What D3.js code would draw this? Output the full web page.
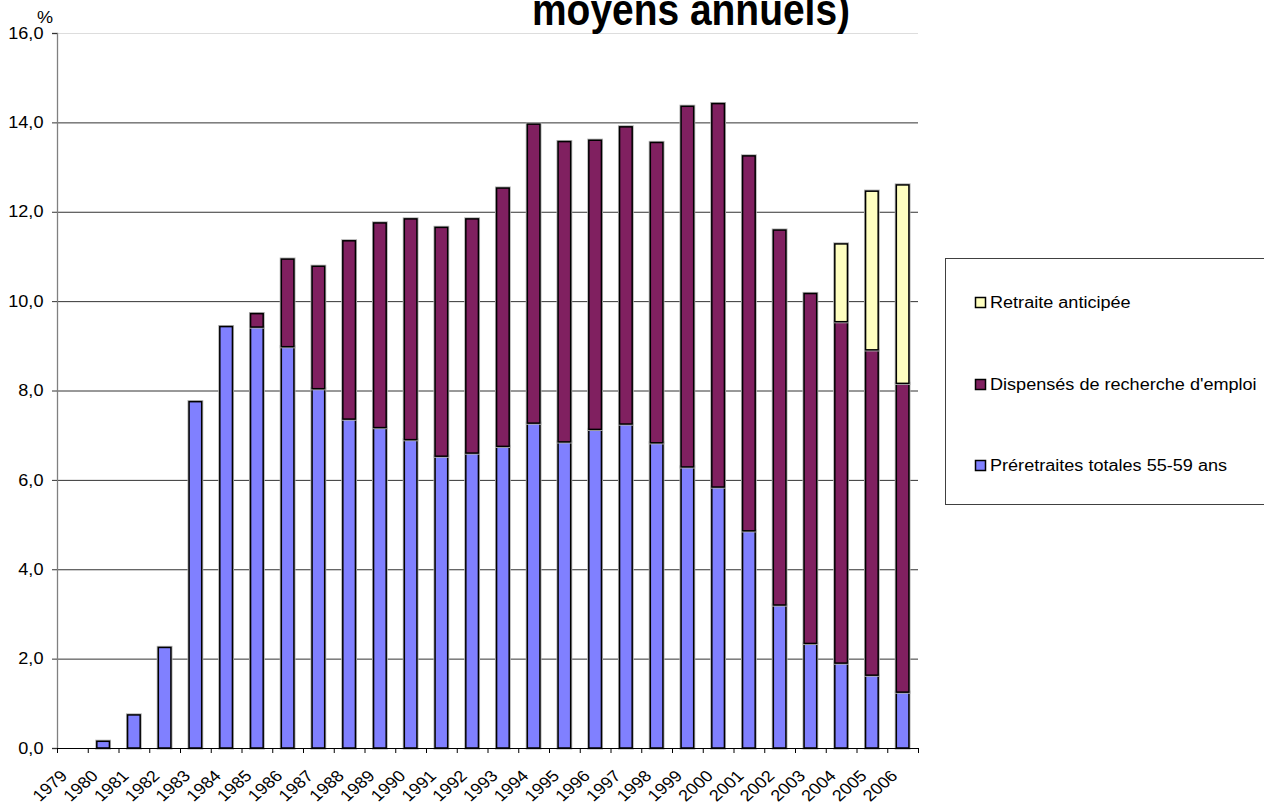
<!DOCTYPE html>
<html>
<head>
<meta charset="utf-8">
<script src="https://cdn.jsdelivr.net/npm/d3@7"></script>
<style>
  body { margin: 0; background: #fff; }
  text { font-family: "Liberation Sans", Arial, sans-serif; }
</style>
</head>
<body>
<svg id="chart" width="1264" height="803"></svg>
<script>
// années en abscisse
var years = ["1979","1980","1981","1982","1983","1984","1985","1986","1987","1988",
             "1989","1990","1991","1992","1993","1994","1995","1996","1997","1998",
             "1999","2000","2001","2002","2003","2004","2005","2006"];

// préretraites totales 55-59 ans (%)
var preretraites = [0, 0.15, 0.74, 2.25, 7.75, 9.43, 9.42, 8.98, 8.04, 7.36,
                    7.17, 6.90, 6.53, 6.60, 6.75, 7.27, 6.85, 7.13, 7.25, 6.83,
                    6.29, 5.84, 4.86, 3.20, 2.34, 1.90, 1.63, 1.25];

// dispensés de recherche d'emploi (%)
var dispenses = [0, 0, 0, 0, 0, 0, 0.30, 1.96, 2.74, 3.99,
                 4.58, 4.94, 5.12, 5.24, 5.78, 6.69, 6.72, 6.47, 6.65, 6.72,
                 8.07, 8.58, 8.39, 8.39, 7.83, 7.64, 7.28, 6.91];

// retraite anticipée (%)
var retraite = [0, 0, 0, 0, 0, 0, 0, 0, 0, 0,
                0, 0, 0, 0, 0, 0, 0, 0, 0, 0,
                0, 0, 0, 0, 0, 1.74, 3.55, 4.44];

var yTicks = [0, 2, 4, 6, 8, 10, 12, 14, 16];

var seriesNames = ["Préretraites totales  55-59 ans", "Dispensés de recherche d'emploi", "Retraite anticipée"];
var colors = ["#8080FF", "#802060", "#FFFFC0"];

// étirement horizontal du texte (l'image d'origine est un peu élargie)
var stretch = "scale(1.13,1)";

var svg = d3.select("#chart");

var plotLeft = 57, plotRight = 918, plotTop = 33, plotBottom = 748;

var x = d3.scaleBand()
    .domain(years)
    .range([plotLeft, plotRight])
    .paddingInner(0.59)
    .paddingOuter(0.295);

var xTick = d3.scaleLinear()
    .domain([0, years.length])
    .range([plotLeft, plotRight]);

var y = d3.scaleLinear()
    .domain([0, 16])
    .range([plotBottom, plotTop]);

// grille horizontale
svg.append("g")
  .selectAll("line")
  .data(yTicks.filter(function(d) { return d > 0; }))
  .enter()
  .append("line")
    .attr("x1", plotLeft)
    .attr("x2", plotRight)
    .attr("y1", function(d) { return y(d) + 0.5; })
    .attr("y2", function(d) { return y(d) + 0.5; })
    .attr("stroke", function(d) { return d == 16 ? "#dddddd" : "#333333"; })
    .attr("stroke-width", 1);

// empilement des séries
var table = years.map(function(yr, i) {
    return {year: yr, p: preretraites[i], d: dispenses[i], r: retraite[i]};
});
var stack = d3.stack().keys(["p", "d", "r"]);
var stacked = stack(table);

var layers = svg.append("g")
  .selectAll("g")
  .data(stacked)
  .enter()
  .append("g")
    .attr("fill", function(d, i) { return colors[i]; });

function visible(d) {
    return d.filter(function(s) { return s[1] - s[0] > 0; });
}

// léger halo gris puis contour noir, comme dans Excel
layers.selectAll("rect.halo")
  .data(visible)
  .enter()
  .append("rect")
    .attr("class", "halo")
    .attr("x", function(d) { return x(d.data.year); })
    .attr("width", x.bandwidth())
    .attr("y", function(d) { return y(d[1]); })
    .attr("height", function(d) { return y(d[0]) - y(d[1]); })
    .attr("stroke", "#b0b0b0")
    .attr("stroke-width", 3.2);

layers.selectAll("rect.bar")
  .data(visible)
  .enter()
  .append("rect")
    .attr("class", "bar")
    .attr("x", function(d) { return x(d.data.year); })
    .attr("width", x.bandwidth())
    .attr("y", function(d) { return y(d[1]); })
    .attr("height", function(d) { return y(d[0]) - y(d[1]); })
    .attr("stroke", "#000")
    .attr("stroke-width", 1.5);

// axe des ordonnées
var yAxis = svg.append("g")
    .attr("transform", "translate(" + plotLeft + ",0)")
    .call(d3.axisLeft(y)
        .tickValues(yTicks)
        .tickSize(5)
        .tickPadding(7)
        .tickFormat(function(d) { return d3.format(".1f")(d).replace(".", ","); }));
yAxis.select(".domain").attr("stroke", "#808080").attr("stroke-width", 1.3);
yAxis.selectAll(".tick line").attr("stroke", "#333");
yAxis.selectAll("text")
    .style("font-size", "16px")
    .style("font-family", "'Liberation Sans', Arial, sans-serif")
    .attr("fill", "#000")
    .attr("transform", stretch);

svg.append("text")
    .attr("transform", "translate(45,23) " + stretch)
    .attr("text-anchor", "middle")
    .style("font-size", "16px")
    .text("%");

// axe des abscisses : graduations entre les catégories
var xAxis = svg.append("g")
    .attr("transform", "translate(0," + plotBottom + ")")
    .call(d3.axisBottom(xTick)
        .tickValues(d3.range(years.length + 1))
        .tickSize(5)
        .tickSizeOuter(0)
        .tickFormat(""));
xAxis.select(".domain").attr("stroke", "#000").attr("stroke-width", 1.2);
xAxis.selectAll(".tick line").attr("stroke", "#000");

svg.append("g")
  .selectAll("text")
  .data(years)
  .enter()
  .append("text")
    .attr("transform", function(d) {
        return "translate(" + (x(d) + x.bandwidth() / 2 - 4) + ",777) " + stretch + " rotate(-45)";
    })
    .attr("text-anchor", "end")
    .style("font-size", "16px")
    .text(function(d) { return d; });

// titre (seule la fin est visible)
svg.append("text")
    .attr("x", 691)
    .attr("y", 25)
    .attr("text-anchor", "middle")
    .attr("textLength", 318)
    .attr("lengthAdjust", "spacingAndGlyphs")
    .style("font-size", "44px")
    .style("font-weight", "bold")
    .text("moyens annuels)");

// légende
var legend = svg.append("g");
legend.append("rect")
    .attr("x", 945.5)
    .attr("y", 258.5)
    .attr("width", 330)
    .attr("height", 246)
    .attr("fill", "none")
    .attr("stroke", "#404040")
    .attr("stroke-width", 1);

var legendOrder = [2, 1, 0];
var legendY = [302, 384, 465];

var items = legend.selectAll("g.item")
  .data(legendOrder)
  .enter()
  .append("g")
    .attr("class", "item")
    .attr("transform", function(d, i) { return "translate(975," + legendY[i] + ")"; });

items.append("rect")
    .attr("x", 0.5)
    .attr("y", -4.5)
    .attr("width", 10)
    .attr("height", 10)
    .attr("fill", function(d) { return colors[d]; })
    .attr("stroke", "#000")
    .attr("stroke-width", 1.5);

items.append("text")
    .attr("transform", "translate(15,0) " + stretch)
    .attr("dy", "0.36em")
    .style("font-size", "16px")
    .text(function(d) { return seriesNames[d]; });
</script>
</body>
</html>
